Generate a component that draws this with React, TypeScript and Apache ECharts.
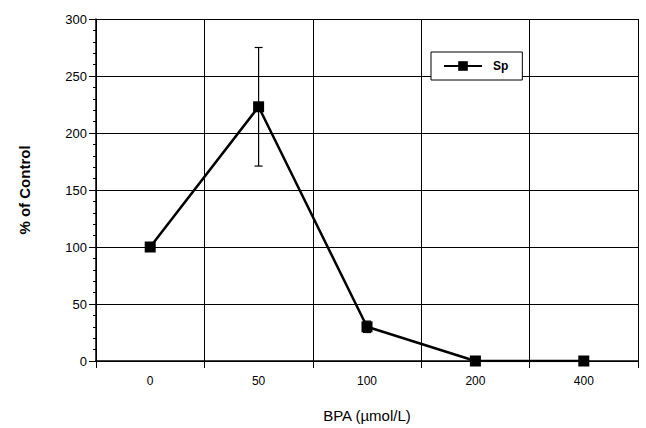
import React, { useEffect, useRef } from "react";
import * as echarts from "echarts";

const categories = ["0", "50", "100", "200", "400"];
const spValues = [100, 223, 30, 0, 0];
const spErrors = [0, 52, 5, 0, 0];
const seriesName = "Sp";
const xTitle = "BPA (µmol/L)";
const yTitle = "% of Control";

export default function App() {
  const ref = useRef<HTMLDivElement>(null);
  useEffect(() => {
    if (!ref.current) return;
    const chart = echarts.init(ref.current, undefined, { renderer: "svg" });
    const font = "Liberation Sans, Arial, sans-serif";
    const errData = spValues.map((v, i) => [i, v - spErrors[i], v + spErrors[i]]);
    chart.setOption({
      animation: false,
      backgroundColor: "#fff",
      textStyle: { fontFamily: font, color: "#000" },
      grid: { left: 96, right: 8, top: 19, bottom: 60, containLabel: false },
      legend: {
        data: [seriesName],
        left: 431,
        top: 52,
        orient: "horizontal",
        backgroundColor: "#fff",
        borderColor: "#000",
        borderWidth: 1,
        borderRadius: 0,
        padding: [8, 14, 8, 12],
        itemWidth: 38,
        itemHeight: 12,
        textStyle: { fontFamily: font, fontSize: 12, fontWeight: "bold", color: "#000", padding: [0, 0, 0, 6] },
      },
      xAxis: {
        type: "category",
        data: categories,
        boundaryGap: true,
        name: xTitle,
        nameLocation: "middle",
        nameGap: 47,
        nameTextStyle: { fontFamily: font, fontSize: 15, color: "#000" },
        axisLine: { show: true, lineStyle: { color: "#000", width: 1.5 } },
        axisTick: { show: true, alignWithLabel: false, length: 7, lineStyle: { color: "#000" } },
        axisLabel: { fontFamily: font, fontSize: 12, color: "#000", margin: 14 },
        splitLine: { show: true, lineStyle: { color: "#000", width: 1 } },
      },
      yAxis: {
        type: "value",
        min: 0,
        max: 300,
        interval: 50,
        name: yTitle,
        nameLocation: "middle",
        nameGap: 64,
        nameRotate: 90,
        nameTextStyle: { fontFamily: font, fontSize: 15, fontWeight: "bold", color: "#000" },
        axisLine: { show: true, lineStyle: { color: "#000", width: 1.5 } },
        axisTick: { show: true, length: 7, lineStyle: { color: "#000" } },
        minorTick: { show: true, splitNumber: 5, length: 3, lineStyle: { color: "#000" } },
        axisLabel: { fontFamily: font, fontSize: 13, color: "#000", margin: 9 },
        splitLine: { show: true, lineStyle: { color: "#000", width: 1 } },
      },
      series: [
        {
          name: seriesName,
          type: "line",
          data: spValues,
          symbol: "rect",
          symbolSize: 11,
          itemStyle: { color: "#000" },
          lineStyle: { color: "#000", width: 2.5 },
          z: 3,
        },
        {
          type: "custom",
          name: "err",
          data: errData,
          z: 2,
          renderItem: (params: any, api: any) => {
            const x = api.value(0);
            const lo = api.coord([x, api.value(1)]);
            const hi = api.coord([x, api.value(2)]);
            const cap = 4;
            const style = { stroke: "#000", lineWidth: 1.2 };
            return {
              type: "group",
              children: [
                { type: "line", shape: { x1: lo[0], y1: lo[1], x2: hi[0], y2: hi[1] }, style },
                { type: "line", shape: { x1: lo[0] - cap, y1: lo[1], x2: lo[0] + cap, y2: lo[1] }, style },
                { type: "line", shape: { x1: hi[0] - cap, y1: hi[1], x2: hi[0] + cap, y2: hi[1] }, style },
              ],
            };
          },
        },
      ],
    });
    return () => chart.dispose();
  }, []);
  return <div ref={ref} style={{ width: 646, height: 428, position: "absolute", left: 0, top: 0 }} />;
}
